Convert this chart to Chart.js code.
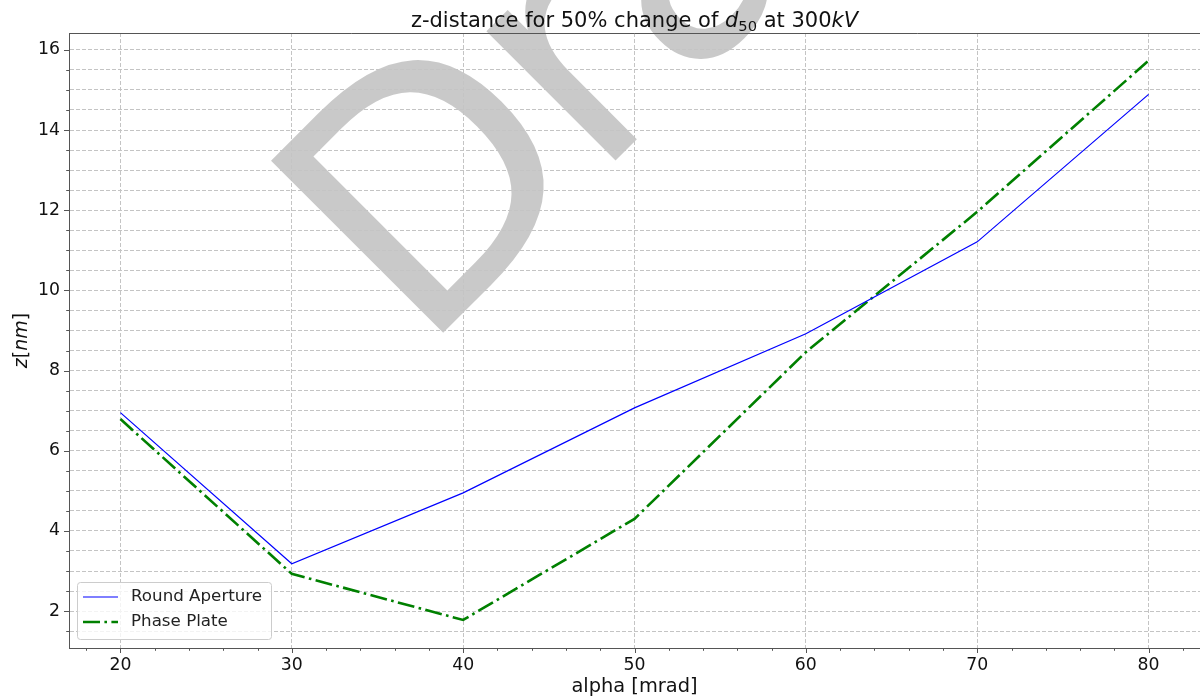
<!DOCTYPE html>
<html>
<head>
<meta charset="utf-8">
<script src="https://cdn.jsdelivr.net/npm/chart.js@4.4.0/dist/chart.umd.min.js"></script>
<style>
html, body { margin: 0; padding: 0; background: #fff; }
canvas { display: block; }
</style>
</head>
<body>
<canvas id="chart" width="1200" height="699"></canvas>
<script>
// values
var alphaValues = [20, 30, 40, 50, 60, 70, 80];
var roundAperture = [6.95, 3.18, 4.95, 7.07, 8.92, 11.21, 14.89];
var phasePlate = [6.79, 2.93, 1.78, 4.30, 8.46, 11.96, 15.73];

var xTicks = [20, 30, 40, 50, 60, 70, 80];
var yTicks = [2, 4, 6, 8, 10, 12, 14, 16];

var FONT = '"DejaVu Sans", sans-serif';

function toPoints(xs, ys) {
    return xs.map(function(x, i) { return { x: x, y: ys[i] }; });
}

// draws a row of text pieces with their own fonts, centred on x
function drawRuns(ctx, runs, x, y) {
    var total = 0;
    runs.forEach(function(r) {
        ctx.font = r.font;
        r.w = ctx.measureText(r.text).width;
        total += r.w;
    });
    var cx = x - total / 2;
    runs.forEach(function(r) {
        ctx.font = r.font;
        ctx.fillText(r.text, cx, y + (r.dy || 0));
        cx += r.w;
    });
}

var decorPlugin = {
    id: 'decor',
    beforeDraw: function(chart) {
        var ctx = chart.ctx;
        ctx.save();
        ctx.fillStyle = '#fff';
        ctx.fillRect(0, 0, chart.width, chart.height);
        // watermark
        ctx.translate(420, 356);
        ctx.rotate(-Math.PI / 4);
        ctx.font = '334px ' + FONT;
        if ('letterSpacing' in ctx) ctx.letterSpacing = '-11px';
        ctx.fillStyle = 'rgba(0,0,0,0.21)';
        ctx.textBaseline = 'alphabetic';
        ctx.fillText('Draft', 0, 0);
        ctx.restore();
    },
    afterDraw: function(chart) {
        var ctx = chart.ctx;
        var area = chart.chartArea;
        var xs = chart.scales.x;
        var ys = chart.scales.y;
        ctx.save();

        // top spine
        ctx.strokeStyle = '#555';
        ctx.lineWidth = 1;
        ctx.beginPath();
        ctx.moveTo(area.left, area.top + 0.5);
        ctx.lineTo(area.right, area.top + 0.5);
        ctx.stroke();

        // tick marks, major and minor
        ctx.beginPath();
        ys.ticks.forEach(function(t) {
            var py = Math.round(ys.getPixelForValue(t.value)) + 0.5;
            var len = yTicks.indexOf(t.value) >= 0 ? 5 : 2.8;
            ctx.moveTo(area.left - len, py);
            ctx.lineTo(area.left, py);
        });
        for (var v = Math.ceil(xs.min / 2) * 2; v <= xs.max; v += 2) {
            var px = Math.round(xs.getPixelForValue(v)) + 0.5;
            var l = xTicks.indexOf(v) >= 0 ? 5 : 2.8;
            ctx.moveTo(px, area.bottom);
            ctx.lineTo(px, area.bottom + l);
        }
        ctx.stroke();

        // legend
        var lx = area.left + 8, ly = area.bottom - 66, lw = 194, lh = 57;
        ctx.beginPath();
        ctx.roundRect(lx + 0.5, ly + 0.5, lw, lh, 3);
        ctx.fillStyle = 'rgba(255,255,255,0.8)';
        ctx.fill();
        ctx.strokeStyle = '#cccccc';
        ctx.stroke();
        chart.data.datasets.forEach(function(ds, i) {
            var rowY = ly + 15 + i * 25;
            ctx.save();
            ctx.strokeStyle = ds.borderColor;
            ctx.lineWidth = ds.borderWidth;
            ctx.setLineDash(ds.borderDash || []);
            ctx.beginPath();
            ctx.moveTo(lx + 6, rowY);
            ctx.lineTo(lx + 41, rowY);
            ctx.stroke();
            ctx.restore();
            ctx.fillStyle = '#222';
            ctx.font = '16.7px ' + FONT;
            ctx.textBaseline = 'middle';
            ctx.fillText(ds.label, lx + 54, rowY);
        });

        // title and axis labels
        ctx.fillStyle = '#111';
        ctx.textBaseline = 'alphabetic';
        var midX = (area.left + area.right) / 2;
        drawRuns(ctx, [
            { text: 'z-distance for 50% change of ', font: '21px ' + FONT },
            { text: 'd', font: 'italic 21px ' + FONT },
            { text: '50', font: '14.7px ' + FONT, dy: 3.5 },
            { text: ' at 300', font: '21px ' + FONT },
            { text: 'kV', font: 'italic 21px ' + FONT }
        ], midX, 27);

        drawRuns(ctx, [{ text: 'alpha [mrad]', font: '19.4px ' + FONT }], midX, 691.5);

        ctx.translate(27, (area.top + area.bottom) / 2);
        ctx.rotate(-Math.PI / 2);
        drawRuns(ctx, [
            { text: 'z', font: 'italic 19px ' + FONT },
            { text: '[', font: '19px ' + FONT },
            { text: 'nm', font: 'italic 19px ' + FONT },
            { text: ']', font: '19px ' + FONT }
        ], 0, 0);
        ctx.restore();
    }
};

var ctx = document.getElementById('chart').getContext('2d');
var chart = new Chart(ctx, {
    type: 'line',
    data: {
        datasets: [
            {
                label: 'Round Aperture',
                data: toPoints(alphaValues, roundAperture),
                borderColor: '#0000ff',
                borderWidth: 1.2,
                pointRadius: 0,
                tension: 0,
                fill: false
            },
            {
                label: 'Phase Plate',
                data: toPoints(alphaValues, phasePlate),
                borderColor: '#008000',
                borderWidth: 2.6,
                borderDash: [17, 4.4, 2.6, 4.4],
                pointRadius: 0,
                tension: 0,
                fill: false
            }
        ]
    },
    options: {
        responsive: false,
        devicePixelRatio: 1,
        animation: false,
        layout: { padding: { top: 33, left: 0, right: 0, bottom: 0 } },
        plugins: {
            legend: { display: false },
            title: { display: false },
            tooltip: { enabled: false }
        },
        scales: {
            x: {
                type: 'linear',
                min: 17,
                max: 83,
                afterBuildTicks: function(scale) {
                    scale.ticks = xTicks.map(function(v) { return { value: v }; });
                },
                afterFit: function(scale) { scale.height = 51; },
                ticks: {
                    autoSkip: false,
                    maxRotation: 0,
                    padding: 7,
                    color: '#111',
                    font: { family: FONT, size: 17.3 }
                },
                grid: { color: '#c4c4c4', lineWidth: 1, drawTicks: false },
                border: { color: '#555', width: 1, dash: [4, 2] }
            },
            y: {
                type: 'linear',
                min: 1.08,
                max: 16.42,
                afterBuildTicks: function(scale) {
                    var vals = [];
                    for (var v = 1.5; v <= 16; v += 0.5) vals.push(v);
                    scale.ticks = vals.map(function(v) { return { value: v }; });
                },
                afterFit: function(scale) { scale.width = 69; },
                ticks: {
                    autoSkip: false,
                    padding: 9,
                    color: '#111',
                    font: { family: FONT, size: 17.3 },
                    callback: function(value) {
                        return yTicks.indexOf(value) >= 0 ? String(value) : '';
                    }
                },
                grid: { color: '#c4c4c4', lineWidth: 1, drawTicks: false },
                border: { color: '#555', width: 1, dash: [4, 2] }
            }
        }
    },
    plugins: [decorPlugin]
});
</script>
</body>
</html>
